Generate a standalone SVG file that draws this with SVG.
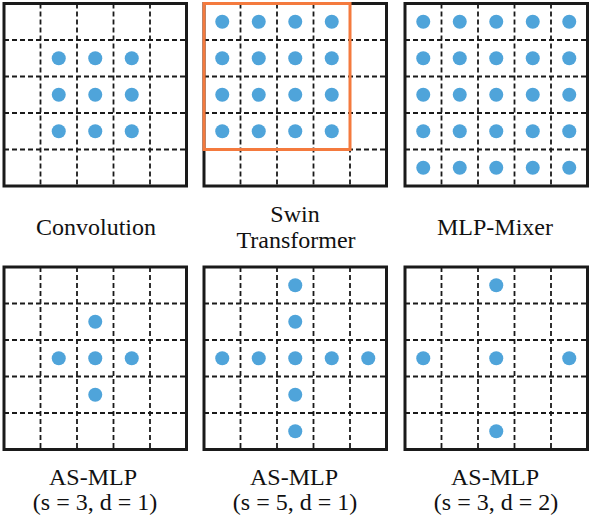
<svg xmlns="http://www.w3.org/2000/svg" xmlns:xlink="http://www.w3.org/1999/xlink" width="591" height="518" viewBox="0 0 591 518">
  <style>
    .dash { stroke: #1a1a1a; stroke-width: 1.8; stroke-dasharray: 5 3; fill: none; }
    .border { stroke: #1a1a1a; stroke-width: 3; fill: none; }
    .dot { fill: #4FA4DA; }
    .win { stroke: #F47A3E; stroke-width: 3; fill: none; }
    .lbl { font-family: "Liberation Serif", "Times New Roman", serif; font-size: 24px; fill: #111; text-anchor: middle; }
  </style>
  <defs>
    <g id="grid">
      <rect x="0" y="0" width="182.5" height="182.5" fill="#fff"/>
      <path class="dash" d="M36.5 0V182.5M73 0V182.5M109.5 0V182.5M146 0V182.5M0 36.5H182.5M0 73H182.5M0 109.5H182.5M0 146H182.5"/>
      <rect class="border" x="0" y="0" width="182.5" height="182.5"/>
    </g>
    <circle id="d" r="7" class="dot"/>
  </defs>
  <rect width="591" height="518" fill="#fff"/>

  <g id="convolution" transform="translate(4,3.5)">
    <use xlink:href="#grid"/>
    <use xlink:href="#d" x="54.75" y="54.75"/><use xlink:href="#d" x="91.25" y="54.75"/><use xlink:href="#d" x="127.75" y="54.75"/>
    <use xlink:href="#d" x="54.75" y="91.25"/><use xlink:href="#d" x="91.25" y="91.25"/><use xlink:href="#d" x="127.75" y="91.25"/>
    <use xlink:href="#d" x="54.75" y="127.75"/><use xlink:href="#d" x="91.25" y="127.75"/><use xlink:href="#d" x="127.75" y="127.75"/>
  </g>

  <g id="swin" transform="translate(204,3.5)">
    <use xlink:href="#grid"/>
    <use xlink:href="#d" x="18.25" y="18.25"/><use xlink:href="#d" x="54.75" y="18.25"/><use xlink:href="#d" x="91.25" y="18.25"/><use xlink:href="#d" x="127.75" y="18.25"/>
    <use xlink:href="#d" x="18.25" y="54.75"/><use xlink:href="#d" x="54.75" y="54.75"/><use xlink:href="#d" x="91.25" y="54.75"/><use xlink:href="#d" x="127.75" y="54.75"/>
    <use xlink:href="#d" x="18.25" y="91.25"/><use xlink:href="#d" x="54.75" y="91.25"/><use xlink:href="#d" x="91.25" y="91.25"/><use xlink:href="#d" x="127.75" y="91.25"/>
    <use xlink:href="#d" x="18.25" y="127.75"/><use xlink:href="#d" x="54.75" y="127.75"/><use xlink:href="#d" x="91.25" y="127.75"/><use xlink:href="#d" x="127.75" y="127.75"/>
    <rect class="win" x="0" y="0" width="146" height="146"/>
  </g>

  <g id="mlp-mixer" transform="translate(405,3.5)">
    <use xlink:href="#grid"/>
    <use xlink:href="#d" x="18.25" y="18.25"/><use xlink:href="#d" x="54.75" y="18.25"/><use xlink:href="#d" x="91.25" y="18.25"/><use xlink:href="#d" x="127.75" y="18.25"/><use xlink:href="#d" x="164.25" y="18.25"/>
    <use xlink:href="#d" x="18.25" y="54.75"/><use xlink:href="#d" x="54.75" y="54.75"/><use xlink:href="#d" x="91.25" y="54.75"/><use xlink:href="#d" x="127.75" y="54.75"/><use xlink:href="#d" x="164.25" y="54.75"/>
    <use xlink:href="#d" x="18.25" y="91.25"/><use xlink:href="#d" x="54.75" y="91.25"/><use xlink:href="#d" x="91.25" y="91.25"/><use xlink:href="#d" x="127.75" y="91.25"/><use xlink:href="#d" x="164.25" y="91.25"/>
    <use xlink:href="#d" x="18.25" y="127.75"/><use xlink:href="#d" x="54.75" y="127.75"/><use xlink:href="#d" x="91.25" y="127.75"/><use xlink:href="#d" x="127.75" y="127.75"/><use xlink:href="#d" x="164.25" y="127.75"/>
    <use xlink:href="#d" x="18.25" y="164.25"/><use xlink:href="#d" x="54.75" y="164.25"/><use xlink:href="#d" x="91.25" y="164.25"/><use xlink:href="#d" x="127.75" y="164.25"/><use xlink:href="#d" x="164.25" y="164.25"/>
  </g>

  <g id="asmlp-s3-d1" transform="translate(4,267)">
    <use xlink:href="#grid"/>
    <use xlink:href="#d" x="91.25" y="54.75"/>
    <use xlink:href="#d" x="54.75" y="91.25"/><use xlink:href="#d" x="91.25" y="91.25"/><use xlink:href="#d" x="127.75" y="91.25"/>
    <use xlink:href="#d" x="91.25" y="127.75"/>
  </g>

  <g id="asmlp-s5-d1" transform="translate(204,267)">
    <use xlink:href="#grid"/>
    <use xlink:href="#d" x="91.25" y="18.25"/>
    <use xlink:href="#d" x="91.25" y="54.75"/>
    <use xlink:href="#d" x="18.25" y="91.25"/><use xlink:href="#d" x="54.75" y="91.25"/><use xlink:href="#d" x="91.25" y="91.25"/><use xlink:href="#d" x="127.75" y="91.25"/><use xlink:href="#d" x="164.25" y="91.25"/>
    <use xlink:href="#d" x="91.25" y="127.75"/>
    <use xlink:href="#d" x="91.25" y="164.25"/>
  </g>

  <g id="asmlp-s3-d2" transform="translate(405,267)">
    <use xlink:href="#grid"/>
    <use xlink:href="#d" x="91.25" y="18.25"/>
    <use xlink:href="#d" x="18.25" y="91.25"/><use xlink:href="#d" x="91.25" y="91.25"/><use xlink:href="#d" x="164.25" y="91.25"/>
    <use xlink:href="#d" x="91.25" y="164.25"/>
  </g>

  <g id="labels">
    <text class="lbl" x="96" y="235">Convolution</text>
    <text class="lbl" x="295" y="222">Swin</text>
    <text class="lbl" x="296" y="248">Transformer</text>
    <text class="lbl" x="495" y="235">MLP-Mixer</text>
    <text class="lbl" x="93" y="485">AS-MLP</text>
    <text class="lbl" x="95" y="510">(s = 3, d = 1)</text>
    <text class="lbl" x="294" y="485">AS-MLP</text>
    <text class="lbl" x="295" y="510">(s = 5, d = 1)</text>
    <text class="lbl" x="495" y="485">AS-MLP</text>
    <text class="lbl" x="496" y="510">(s = 3, d = 2)</text>
  </g>
</svg>
